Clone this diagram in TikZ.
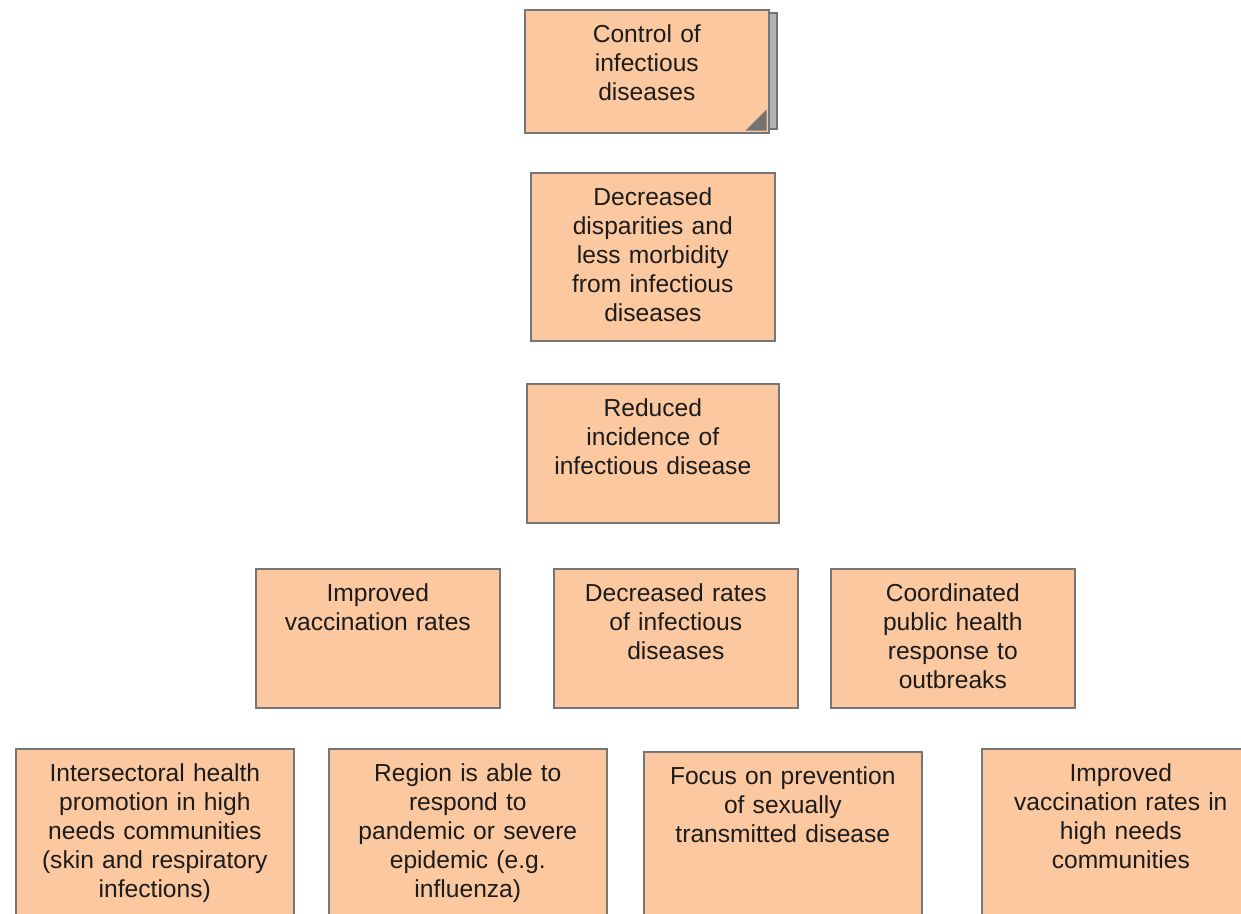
\documentclass[tikz,border=0pt]{standalone}
\usepackage{fontspec}
\setmainfont{Liberation Sans}
\usepackage{tikz}
\usetikzlibrary{calc}
\usepackage{xcolor}
\definecolor{peach}{RGB}{252,200,160}
\definecolor{cardline}{RGB}{118,118,118}
\definecolor{cardink}{RGB}{28,28,28}
\newlength\px
\setlength\px{0.02cm}
\tikzset{
  card/.style={rectangle, draw=cardline, fill=peach, line width=1.6\px,
    anchor=north west, inner sep=0pt},
  cardtext/.style={anchor=north, align=center, inner sep=0pt, yshift=-15\px,
    text=cardink, font=\fontsize{14pt}{16.5pt}\selectfont},
}
% one box: name, left, top, width, height, text
\newcommand{\cardbox}[6]{
   \node[card, minimum width=#4\px, minimum height=#5\px] (#1) at (#2,#3) {};
   \node[cardtext, text width=#4\px] (#1-txt) at (#1.north) {#6};
}

\begin{document}
\begin{tikzpicture}[x=\px, y=-\px]
    \useasboundingbox (0,0) rectangle (1241,913);
    \clip (0,0) rectangle (1241,913);
    % stacked sheet behind the top box
    \fill[black!30] (532,13) rectangle (777,129);
    \draw[black!55, line width=1.2\px] (532,13) rectangle (777,129);
    \cardbox{control}{524}{9}{244}{123}{Control of\\infectious\\diseases}
    \fill[black!55] ($(control.south east)+(-3,-3)$) -- ++(0,-21) -- ++(-21,21) -- cycle;
    \cardbox{disparities}{530}{172}{244}{168}{Decreased\\disparities and\\less morbidity\\from infectious\\diseases}
    \cardbox{incidence}{526}{383}{252}{139}{Reduced\\incidence of\\infectious disease}
    % middle row
    \cardbox{vaccination}{255}{568}{244}{139}{Improved\\vaccination rates}
    \cardbox{rates}{553}{568}{244}{139}{Decreased rates\\of infectious\\diseases}
    \cardbox{response}{830}{568}{244}{139}{Coordinated\\public health\\response to\\outbreaks}
    % bottom row
    \cardbox{intersectoral}{15}{748}{278}{200}{Intersectoral health\\promotion in high\\needs communities\\(skin and respiratory\\infections)}
    \cardbox{pandemic}{328}{748}{278}{200}{Region is able to\\respond to\\pandemic or severe\\epidemic (e.g.\\influenza)}
    \cardbox{prevention}{643}{751}{278}{200}{Focus on prevention\\of sexually\\transmitted disease}
    \cardbox{highneeds}{981}{748}{278}{200}{Improved\\vaccination rates in\\high needs\\communities}
\end{tikzpicture}
\end{document}
